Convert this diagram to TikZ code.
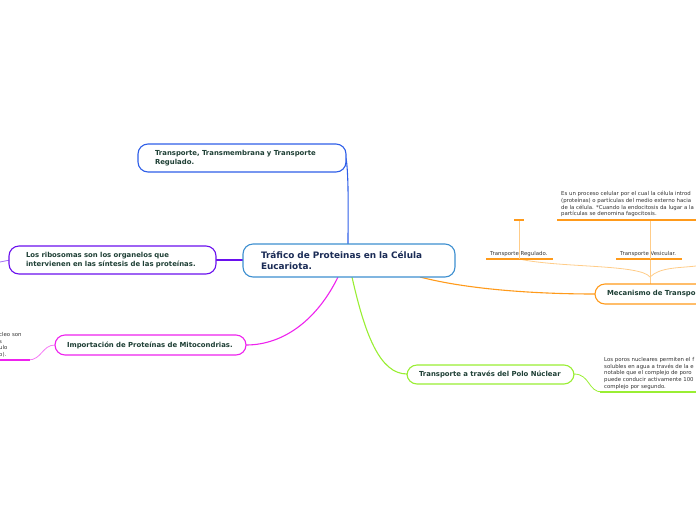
\documentclass[tikz,border=0pt]{standalone}
\usepackage{fontspec}
\setmainfont{DejaVu Sans}
\definecolor{cblue}{HTML}{2F5FE8}
\definecolor{ccentral}{HTML}{3D8FD0}
\definecolor{cpurple}{HTML}{6A10EE}
\definecolor{cmag}{HTML}{EE22EE}
\definecolor{cgreen}{HTML}{99EE33}
\definecolor{corange}{HTML}{FF9A1A}
\definecolor{clorange}{HTML}{FFCC88}
\definecolor{ctext}{HTML}{1E3F35}
\definecolor{cnavy}{HTML}{1A2B55}
\definecolor{csmall}{HTML}{333333}
\tikzset{
  box/.style={draw, line width=1.1pt, fill=white, rounded corners=10pt, align=left, anchor=center, text=ctext},
  bigtxt/.style={font=\fontsize{8.9}{11}\selectfont\bfseries},
  midtxt/.style={font=\fontsize{6.9}{8.6}\selectfont\bfseries},
  smalltxt/.style={font=\fontsize{5.4}{6.8}\selectfont, text=csmall, align=left, inner sep=0pt},
  conn/.style={line width=1.1pt},
  sub/.style={line width=0.8pt, draw=clorange},
}
\begin{document}
\begin{tikzpicture}[x=1pt,y=-1pt]
\useasboundingbox (0,0) rectangle (696,520);
\clip (0,0) rectangle (696,520);
% connectors from central node
\draw[conn, cblue] (346,158) .. controls (349,175) and (348,220) .. (348,244);
\draw[conn, cpurple] (216,260) -- (243,260);
\draw[conn, cmag] (338,277) .. controls (318,318) and (285,345) .. (246,345);
\draw[conn, cgreen] (352,277) .. controls (365,335) and (380,374) .. (407,374);
\draw[conn, corange] (420,277) .. controls (470,290) and (540,294) .. (595,294);
% left purple stub
\coordinate (ribostub) at (0,262);
\draw[line width=0.8pt, cpurple!60] (ribostub) -- (10,260);
% left magenta branch
\draw[line width=0.8pt, cmag!60] (55,345) .. controls (42,345) and (42,360) .. (28,360);
\draw[line width=2pt, cmag] (0,360) -- (30,360);
\node[smalltxt, anchor=north west] (mitotxt) at (-1,332) {cleo son\\s\\ulo\\o).};
% right green branch
\draw[line width=0.8pt, cgreen] (574,374) .. controls (590,374) and (588,392) .. (602,392);
\draw[line width=1.6pt, cgreen] (600,392) -- (696,392);
\node[smalltxt, anchor=north west] (porotxt) at (604,357) {Los poros nucleares permiten el f\\solubles en agua a través de la e\\notable que el complejo de poro\\puede conducir activamente 100\\complejo por segundo.};
% orange sub-branches
\coordinate (mtop) at (650,284);
\coordinate (mfork) at (650,277);
\draw[sub] (mtop) -- (mfork);
\draw[sub] (mfork) .. controls (640,264) and (560,268) .. (519,259);
\draw[sub] (mfork) -- (650,259);
\draw[sub] (mfork) .. controls (660,267) and (680,268) .. (696,266);
\draw[line width=1.2pt, corange] (486,259) -- (553,259);
\draw[line width=1.2pt, corange] (616,259) -- (682,259);
\node[smalltxt, anchor=base west] (treg) at (490,255) {Transporte Regulado.};
\node[smalltxt, anchor=base west] (tves) at (620,255) {Transporte Vesicular.};
\draw[sub] (519,259) -- (519,221);
\draw[sub] (650,259) -- (650,221);
\draw[line width=1.6pt, corange] (514,220) -- (524,220);
\draw[line width=1.6pt, corange] (557,220) -- (696,220);
\node[smalltxt, anchor=north west] (endotxt) at (561,191) {Es un proceso celular por el cual la célula introd\\(proteínas) o partículas del medio externo hacia\\de la célula. *Cuando la endocitosis da lugar a la\\partículas se denomina fagocitosis.};
% nodes
\node[box, draw=ccentral, bigtxt, text=cnavy, minimum width=212pt, minimum height=33pt, text width=176pt] (central) at (349,260.5) {Tráfico de Proteinas en la Célula\\Eucariota.};
\node[box, draw=cblue, midtxt, minimum width=208pt, minimum height=28pt, text width=174pt] (trans) at (242,158) {Transporte, Transmembrana y Transporte\\Regulado.};
\node[box, draw=cpurple, midtxt, minimum width=207pt, minimum height=28pt, text width=173pt] (ribo) at (112.5,260) {Los ribosomas son los organelos que\\intervienen en las síntesis de las proteínas.};
\node[box, draw=cmag, midtxt, minimum width=191pt, minimum height=20pt, text width=167pt] (mito) at (150.5,345) {\mbox{Importación de Proteínas de Mitocondrias.}};
\node[box, draw=cgreen, midtxt, minimum width=167pt, minimum height=19pt, text width=143pt] (poro) at (490.5,374.5) {\mbox{Transporte a través del Polo Núclear}};
\node[box, draw=corange, midtxt, minimum width=150pt, minimum height=20pt, text width=126pt] (meca) at (670,294) {\mbox{Mecanismo de Transporte}};
\end{tikzpicture}
\end{document}
